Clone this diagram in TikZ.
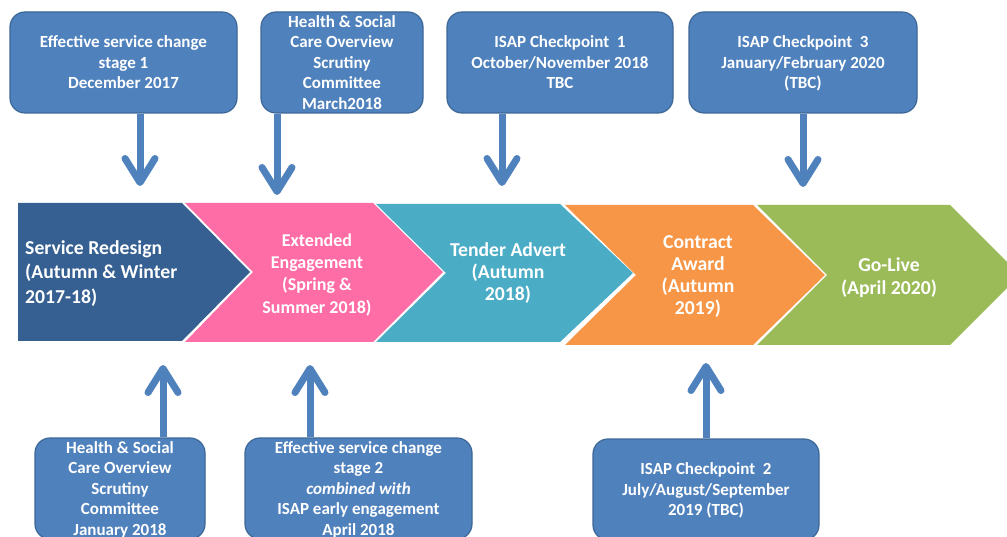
\documentclass[tikz,border=0pt]{standalone}
\usepackage{fontspec}
\setmainfont{Carlito}
\usetikzlibrary{arrows.meta}

\definecolor{boxblue}{HTML}{4F81BD}
\definecolor{boxedge}{HTML}{3D6797}
\definecolor{stagenavy}{HTML}{366092}
\definecolor{stagepink}{HTML}{FF6DA6}
\definecolor{stageteal}{HTML}{4BACC6}
\definecolor{stageorange}{HTML}{F79646}
\definecolor{stagegreen}{HTML}{9BBB59}

\tikzset{
  evbox/.style={draw=boxedge, line width=1.2pt, fill=boxblue, rounded corners=15pt,
    minimum height=101pt, inner sep=0pt, text=white, align=center, text depth=0pt,
    font=\bfseries\fontsize{17}{20.5}\selectfont},
  stagetext/.style={text=white, inner sep=0pt, text depth=0pt,
    font=\bfseries\fontsize{19.7}{22.5}\selectfont},
  pointer/.style={draw=boxblue, line width=7pt,
    -{Straight Barb[length=24pt, width=30pt, round]}},
}

\begin{document}
\begin{tikzpicture}[x=1pt, y=-1pt]
\useasboundingbox (0,0) rectangle (1007,537);
\clip (0,0) rectangle (1007,537);

% stage chevrons
\fill[stagenavy]   (18,203) -- (182,203) -- (250,272) -- (182,341) -- (18,341) -- cycle;
\fill[stagepink]   (185,203) -- (373,203) -- (443,272) -- (373,342) -- (185,342) -- (253,272) -- cycle;
\fill[stageteal]   (376,204) -- (560,204) -- (633,273) -- (560,342) -- (376,342) -- (446,273) -- cycle;
\fill[stageorange] (565,205) -- (753,205) -- (825,275) -- (753,345) -- (565,345) -- (636,275) -- cycle;
\fill[stagegreen]  (757,205) -- (950,205) -- (1020,275) -- (950,345) -- (757,345) -- (827,275) -- cycle;

% stage labels
\node[stagetext, anchor=west, align=left, font=\bfseries\fontsize{19.7}{24.5}\selectfont]
  (s1) at (25,272) {Service Redesign\\(Autumn \& Winter\\2017-18)};
\node[stagetext, align=center, font=\bfseries\fontsize{18}{22.3}\selectfont]
  (s2) at (317,273.5) {Extended\\Engagement\\(Spring \&\\Summer 2018)};
\node[stagetext, align=center, font=\bfseries\fontsize{19.7}{22}\selectfont]
  (s3) at (508,272) {Tender Advert\\(Autumn\\2018)};
\node[stagetext, align=center, font=\bfseries\fontsize{19.7}{22}\selectfont]
  (s4) at (698,275) {Contract\\Award\\(Autumn\\2019)};
\node[stagetext, align=center]
  (s5) at (889,276) {Go-Live\\(April 2020)};

% milestone boxes above the timeline
\node[evbox, minimum width=227pt] (t1) at (123.5,62.5)
  {Effective service change\\stage 1\\December 2017};
\node[evbox, minimum width=162pt] (t2) at (342,62.5)
  {Health \& Social\\Care Overview\\Scrutiny\\Committee\\March2018};
\node[evbox, minimum width=226pt] (t3) at (560,62.5)
  {ISAP Checkpoint\ \ 1\\October/November 2018\\TBC};
\node[evbox, minimum width=228pt] (t4) at (803,62.5)
  {ISAP Checkpoint\ \ 3\\January/February 2020\\(TBC)};

% milestone boxes below the timeline
\node[evbox, minimum width=170pt] (b1) at (120,488.5)
  {Health \& Social\\Care Overview\\Scrutiny\\Committee\\January 2018};
\node[evbox, minimum width=227pt] (b2) at (358.5,488.5)
  {Effective service change\\stage 2\\\textit{combined with}\\ISAP early engagement\\April 2018};
\node[evbox, minimum width=226pt] (b3) at (706,489.5)
  {ISAP Checkpoint\ \ 2\\July/August/September\\2019 (TBC)};

% arrow tips on the timeline
\coordinate (p1) at (140,186);
\coordinate (p2) at (277,195);
\coordinate (p3) at (502,186);
\coordinate (p4) at (803,187);
\coordinate (q1) at (163,365);
\coordinate (q2) at (310,365);
\coordinate (q3) at (706,363);

\draw[pointer] (t1.south -| p1) -- (p1);
\draw[pointer] (t2.south -| p2) -- (p2);
\draw[pointer] (t3.south -| p3) -- (p3);
\draw[pointer] (t4.south -| p4) -- (p4);
\draw[pointer] (b1.north -| q1) -- (q1);
\draw[pointer] (b2.north -| q2) -- (q2);
\draw[pointer] (b3.north -| q3) -- (q3);
\end{tikzpicture}
\end{document}
